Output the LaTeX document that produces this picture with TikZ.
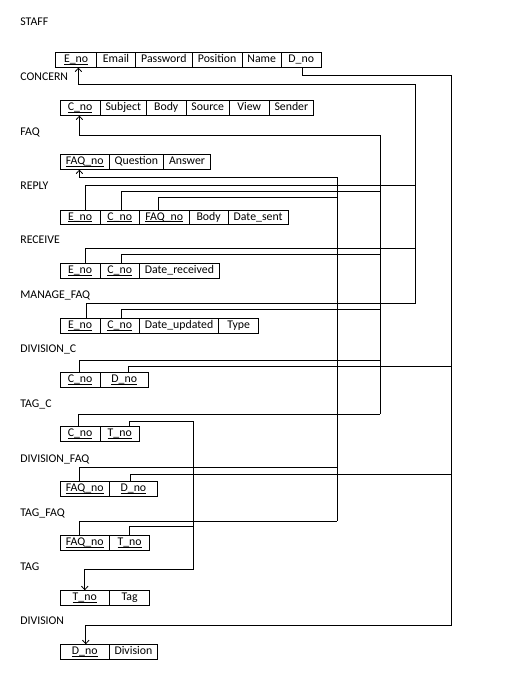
\documentclass[tikz,border=0pt]{standalone}
\usepackage{fontspec}
\setmainfont{Carlito}
\usetikzlibrary{arrows.meta}

% primary-key attribute: underlined, rule kept close to the baseline
\newcommand\key[1]{\underline{\smash{#1}}}
% one attribute cell: name, left x, right x, top y, text
\newcommand\cell[5]{\node[cell, minimum width={(#3-#2)*1pt}] (#1) at (#2,#4) {#5};}

\begin{document}
\begin{tikzpicture}[x=1pt, y=-1pt, line width=0.8pt,
  cell/.style={draw, anchor=north west, minimum height=14.5pt, inner sep=0pt,
    text height=8pt, text depth=2.5pt, font=\fontsize{11.8}{14}\selectfont},
  lbl/.style={anchor=west, inner sep=0pt, text height=7.6pt, text depth=0pt,
    font=\fontsize{11.8}{14}\selectfont},
  fk/.style={draw},
  tip/.tip={Straight Barb[length=3.5pt, width=6.5pt]}]

\fill[white] (0,0) rectangle (531,674);
\useasboundingbox (0,0) rectangle (531,674);

% ---- relation labels
\node[lbl] (lStaff)   at (20,22)    {STAFF};
\node[lbl] (lConcern) at (20,77)    {CONCERN};
\node[lbl] (lFaq)     at (20,131.3) {FAQ};
\node[lbl] (lReply)   at (20,186)   {REPLY};
\node[lbl] (lRecv)    at (20,240)   {RECEIVE};
\node[lbl] (lManage)  at (20,294.3) {MANAGE\_FAQ};
\node[lbl] (lDivC)    at (20,349)   {DIVISION\_C};
\node[lbl] (lTagC)    at (20,403.3) {TAG\_C};
\node[lbl] (lDivF)    at (20,458.3) {DIVISION\_FAQ};
\node[lbl] (lTagF)    at (20,512.3) {TAG\_FAQ};
\node[lbl] (lTag)     at (20,567)   {TAG};
\node[lbl] (lDiv)     at (20,621)   {DIVISION};

% ---- STAFF
\cell{sE}{55.3}{96}{52.3}{\key{E\_no}}
\cell{sM}{96}{135.3}{52.3}{Email}
\cell{sP}{135.3}{191.7}{52.3}{Password}
\cell{sO}{191.7}{241.7}{52.3}{Position}
\cell{sN}{241.7}{281}{52.3}{Name}
\cell{sD}{281}{320.7}{52.3}{D\_no}

% ---- CONCERN
\cell{cC}{59.7}{99.7}{100.3}{\key{C\_no}}
\cell{cS}{99.7}{146}{100.3}{Subject}
\cell{cB}{146}{185.7}{100.3}{Body}
\cell{cO}{185.7}{229}{100.3}{Source}
\cell{cV}{229}{268.7}{100.3}{View}
\cell{cN}{268.7}{313.3}{100.3}{Sender}

% ---- FAQ
\cell{fF}{59.7}{109}{154.3}{\key{FAQ\_no}}
\cell{fQ}{109}{163}{154.3}{Question}
\cell{fA}{163}{210.3}{154.3}{Answer}

% ---- REPLY
\cell{rE}{59.7}{99.7}{209.7}{\key{E\_no}}
\cell{rC}{99.7}{139}{209.7}{\key{C\_no}}
\cell{rF}{139}{188.7}{209.7}{\key{FAQ\_no}}
\cell{rB}{188.7}{227.7}{209.7}{Body}
\cell{rD}{227.7}{287.7}{209.7}{Date\_sent}

% ---- RECEIVE
\cell{vE}{59.7}{99.7}{263.3}{\key{E\_no}}
\cell{vC}{99.7}{139}{263.3}{\key{C\_no}}
\cell{vD}{139}{219}{263.3}{Date\_received}

% ---- MANAGE_FAQ
\cell{mE}{59.7}{99.7}{318.3}{\key{E\_no}}
\cell{mC}{99.7}{139}{318.3}{\key{C\_no}}
\cell{mD}{139}{218.3}{318.3}{Date\_updated}
\cell{mT}{218.3}{258.3}{318.3}{Type}

% ---- DIVISION_C
\cell{dcC}{59.7}{99.7}{372.3}{\key{C\_no}}
\cell{dcD}{99.7}{148}{372.3}{\key{D\_no}}

% ---- TAG_C
\cell{tcC}{59.7}{99.7}{426.3}{\key{C\_no}}
\cell{tcT}{99.7}{139}{426.3}{\key{T\_no}}

% ---- DIVISION_FAQ
\cell{dfF}{59.7}{109}{481.3}{\key{FAQ\_no}}
\cell{dfD}{109}{157}{481.3}{\key{D\_no}}

% ---- TAG_FAQ
\cell{tfF}{59.7}{109}{535.3}{\key{FAQ\_no}}
\cell{tfT}{109}{149.3}{535.3}{\key{T\_no}}

% ---- TAG
\cell{tT}{59.7}{109}{590.3}{\key{T\_no}}
\cell{tG}{109}{149.3}{590.3}{Tag}

% ---- DIVISION
\cell{dD}{59.7}{109}{644.3}{\key{D\_no}}
\cell{dV}{109}{157}{644.3}{Division}

% ---- foreign keys: E_no bus
\draw[fk, tip-] ([xshift=2.35pt]sE.south) |- (415.7,84.3) -- (415.7,303);
\draw[fk] ([xshift=5.6pt]rE.north) |- (415.7,185.7);
\draw[fk] ([xshift=5.6pt]vE.north) |- (415.7,248.3);
\draw[fk] ([xshift=6.6pt]mE.north) |- (415.7,303);

% ---- C_no bus
\draw[fk, tip-] ([xshift=-0.7pt]cC.south) |- (380.3,135.3) -- (380.3,414);
\draw[fk] ([xshift=2pt]rC.north) |- (380.3,191.3);
\draw[fk] ([xshift=2pt]vC.north) |- (380.3,254.3);
\draw[fk] ([xshift=2pt]mC.north) |- (380.3,309.3);
\draw[fk] ([xshift=-0.7pt]dcC.north) |- (380.3,360.3);
\draw[fk] ([xshift=-1.7pt]tcC.north) |- (380.3,414);

% ---- FAQ_no bus
\draw[fk, tip-] ([xshift=-5.35pt]fF.south) |- (337.3,177.3) -- (337.3,521.3);
\draw[fk] ([xshift=-6.15pt]rF.north) |- (337.3,197.3);
\draw[fk] ([xshift=-5.35pt]dfF.north) |- (337.3,467.3);
\draw[fk] ([xshift=-5.35pt]tfF.north) |- (337.3,521.3);

% ---- D_no bus
\draw[fk, -tip] ([xshift=1.15pt]sD.south) |- (451.3,75.7) -- (451.3,625.3) -| ([xshift=1pt]dD.north);
\draw[fk] ([xshift=4.45pt]dcD.north) |- (451.3,366.7);
\draw[fk] ([xshift=-3pt]dfD.north) |- (451.3,474.3);

% ---- T_no bus
\draw[fk, -tip] ([xshift=9.95pt]tcT.north) |- (193.3,421.3) -- (193.3,569.3) -| (tT.north);
\draw[fk] (tfT.north) |- (193.3,526.7);

\end{tikzpicture}
\end{document}
